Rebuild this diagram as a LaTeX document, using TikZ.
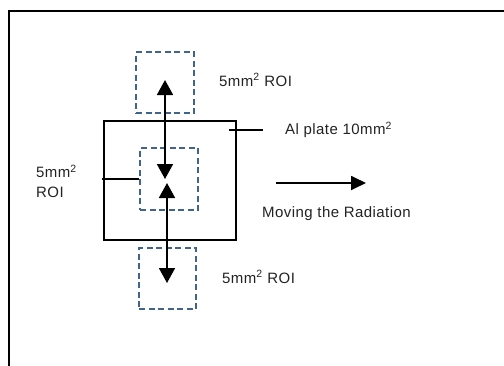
\documentclass[tikz,border=0pt]{standalone}
\usepackage{fontspec}
\setmainfont{Liberation Sans}
\usetikzlibrary{arrows.meta}
\definecolor{roiblue}{HTML}{41648E}
\definecolor{txtc}{HTML}{222222}
\tikzset{
  roibox/.style={draw=roiblue, line width=1.8pt, dash pattern=on 6pt off 3.5pt, minimum width=#1, inner sep=0pt},
  plate/.style={draw=black, line width=1.8pt, inner sep=0pt},
  blk/.style={draw=black, line width=1.8pt},
  tip/.style={-{Triangle[length=15pt,width=16pt]}},
  lbl/.style={text=txtc, font=\fontsize{15}{20}\selectfont\addfontfeature{LetterSpace=3}, inner sep=0pt, anchor=west, align=left},
}
\begin{document}
\begin{tikzpicture}[x=1pt,y=-1pt]
\useasboundingbox (0,0) rectangle (504,365);
% outer frame
\draw[blk] (9,380) -- (9,11) -- (520,11);
% plate and ROI boxes
\node[plate, minimum width=132pt, minimum height=119pt] (plate) at (170,180.5) {};
\node[roibox=58pt, minimum height=61pt] (top) at (165,82.5) {};
\node[roibox=58pt, minimum height=62pt] (mid) at (169,179) {};
\node[roibox=57pt, minimum height=61pt] (bot) at (167.5,278.5) {};
% arrows
\coordinate (t1) at (165,80);
\coordinate (t2) at (165,179);
\coordinate (b1) at (167,183);
\coordinate (b2) at (167,283);
\draw[blk, tip] (t2|-plate.north) -- (t1);
\draw[blk, tip] (t1|-plate.north) -- (t2);
\draw[blk, tip] (b2|-plate.south) -- (b1);
\draw[blk, tip] (b1|-plate.south) -- (b2);
% labels
\node[lbl] (ltop) at (219,80) {5mm\textsuperscript{2} ROI};
\node[lbl] (lal) at (285,130) {Al plate 10mm\textsuperscript{2}};
\node[lbl, anchor=north west] (lleft) at (36,165) {5mm\textsuperscript{2}\\ROI};
\node[lbl] (lmov) at (262,214) {Moving the Radiation};
\node[lbl] (lbot) at (222,277) {5mm\textsuperscript{2} ROI};
% leader lines
\coordinate (a1) at (229,130);
\coordinate (a2) at (263,130);
\draw[blk, line width=1.5pt] (a1) -- (a2);
\coordinate (c1) at (102,179);
\draw[blk, line width=1.5pt] (c1) -- (mid.west);
% moving arrow
\coordinate (m1) at (276,183);
\coordinate (m2) at (366,183);
\draw[blk, -{Triangle[length=15pt,width=14pt]}] (m1) -- (m2);
\end{tikzpicture}
\end{document}
